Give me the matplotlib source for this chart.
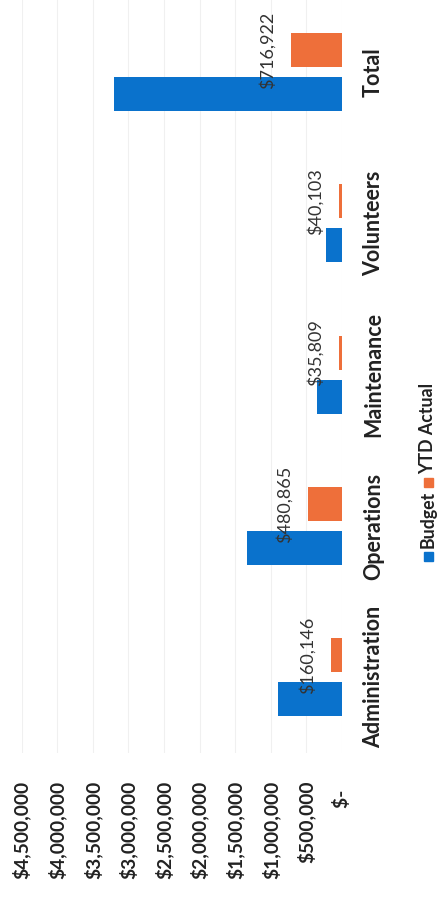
import matplotlib
matplotlib.use("Agg")
import matplotlib.pyplot as plt
from matplotlib.patches import Rectangle
from matplotlib.ticker import FuncFormatter

categories = ["Administration", "Operations", "Maintenance", "Volunteers", "Total"]
budget = [900000, 1330000, 350000, 230000, 3200000]
ytd_actual = [160146, 480865, 35809, 40103, 716922]
series_names = ["Budget", "YTD Actual"]
value_ticks = [0, 500000, 1000000, 1500000, 2000000, 2500000, 3000000, 3500000, 4000000, 4500000]

BLUE = "#0A72CC"
ORANGE = "#EE6F3A"
TEXT = "#222222"
FONT = ["Lato", "DejaVu Sans"]

W, H = 438, 902
fig = plt.figure(figsize=(W / 100, H / 100), dpi=100)
fig.patch.set_facecolor("white")

ax_left, ax_right, ax_top, ax_bottom = 21.7, 342.0, 0.0, 753.0
ax = fig.add_axes([ax_left / W, (H - ax_bottom) / H, (ax_right - ax_left) / W, (ax_bottom - ax_top) / H])

ypos = list(range(len(categories)))
bw = 0.225
off = 0.145
ax.barh([y - off for y in ypos], budget, height=bw, color=BLUE, zorder=2)
ax.barh([y + off for y in ypos], ytd_actual, height=bw, color=ORANGE, zorder=2)

ax.set_xlim(4500000, 0)
ax.set_ylim(-0.5, 4.476)

for y, v in zip(ypos, ytd_actual):
    ax.annotate("${:,.0f}".format(v), xy=(v, y + off), xytext=(-11, 0),
                textcoords="offset points", rotation=90, ha="right", va="center",
                fontsize=13, color="#333333", family=FONT, zorder=3)

ax.set_xticks(value_ticks)
ax.xaxis.set_major_formatter(FuncFormatter(lambda v, p: "$-  " if v == 0 else "${:,.0f}".format(v)))
ax.tick_params(axis="x", length=0, pad=20)
for lab in ax.get_xticklabels():
    lab.set_rotation(90)
    lab.set_va("top")
    lab.set_ha("center")
    lab.set_fontsize(13.8)
    lab.set_fontweight("bold")
    lab.set_family(FONT)
    lab.set_color(TEXT)

ax.yaxis.tick_right()
ax.set_yticks(ypos)
ax.set_yticklabels(categories)
ax.tick_params(axis="y", length=0, pad=15)
for lab in ax.get_yticklabels():
    lab.set_rotation(90)
    lab.set_va("center")
    lab.set_ha("left")
    lab.set_fontsize(15.5)
    lab.set_fontweight("bold")
    lab.set_family(FONT)
    lab.set_color(TEXT)

ax.grid(axis="x", color="#F0F0F0", linewidth=0.8, zorder=0)
ax.set_axisbelow(True)
for s in ax.spines.values():
    s.set_visible(False)

# manual rotated legend
def fx(px):
    return px / W

def fy(py):
    return (H - py) / H

sq = 9
legend_items = [(BLUE, series_names[0], 556, 548), (ORANGE, series_names[1], 482, 474)]
for color, name, cy, tb in legend_items:
    fig.patches.append(Rectangle((fx(428 - sq / 2), fy(cy + sq / 2)), sq / W, sq / H,
                                 transform=fig.transFigure, color=color, figure=fig))
    fig.text(fx(428), fy(tb), name, rotation=90, ha="center", va="bottom",
             fontsize=12.8, fontweight="bold", family=FONT, color=TEXT)

fig.savefig("out.png", dpi=100, facecolor="white")
